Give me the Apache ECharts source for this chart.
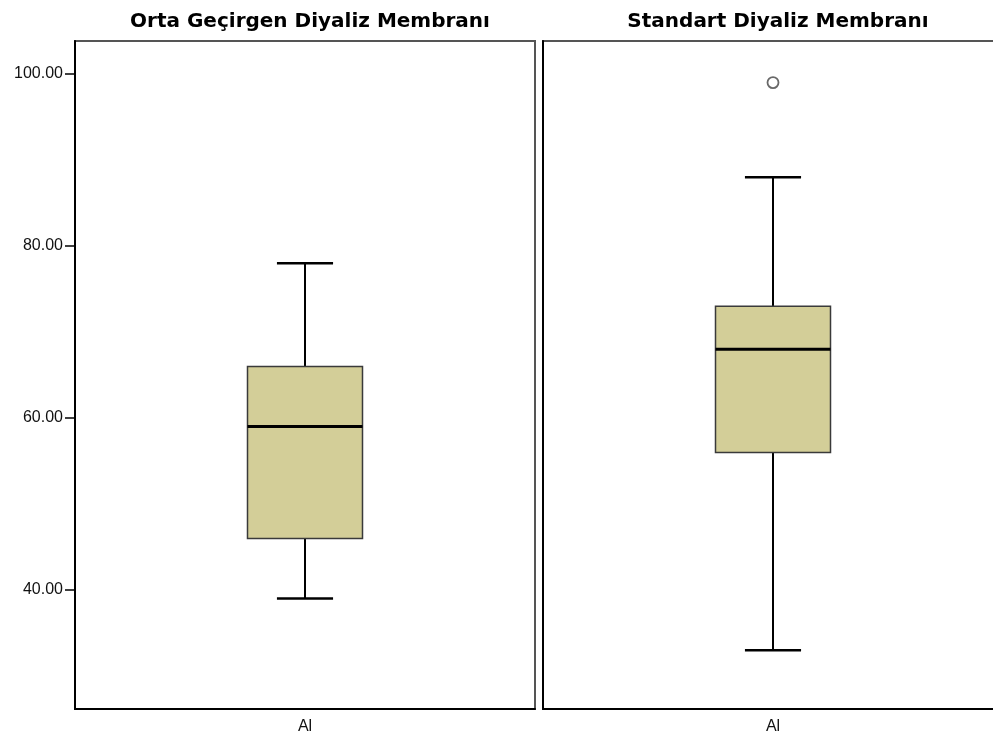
<!DOCTYPE html>
<html lang="tr">
<head>
    <meta charset="UTF-8">
    <title>Boxplot</title>
    <script src="https://cdn.jsdelivr.net/npm/echarts@6/dist/echarts.min.js"></script>
    <style>
        html, body { margin: 0; padding: 0; background: #fff; }
        #chart { width: 993px; height: 740px; }
    </style>
</head>
<body>
<div id="chart"></div>
<script>
    // data
    const panels = ['Orta Geçirgen Diyaliz Membranı', 'Standart Diyaliz Membranı'];
    const categories = ['Al'];
    // [min, q1, median, q3, max]
    const ortaBox = [39, 46, 59, 66, 78];
    const standartBox = [33, 56, 68, 73, 88];
    const standartOutliers = [99];
    const yTicks = [40, 60, 80, 100];

    const chart = echarts.init(document.getElementById('chart'));
    const font = 'Liberation Sans, Arial, sans-serif';

    function renderBox(params, api) {
        const x = api.value(0);
        const band = api.size([1, 0])[0];
        const hw = band * 0.125;
        const cw = band * 0.061;
        const pMin = api.coord([x, api.value(1)]);
        const pQ1 = api.coord([x, api.value(2)]);
        const pMed = api.coord([x, api.value(3)]);
        const pQ3 = api.coord([x, api.value(4)]);
        const pMax = api.coord([x, api.value(5)]);
        const cx = pMed[0];
        const line = (x1, y1, x2, y2, w) => ({
            type: 'line',
            shape: {x1: x1, y1: y1, x2: x2, y2: y2},
            style: {stroke: '#000', lineWidth: w}
        });
        return {
            type: 'group',
            children: [
                line(cx, pMin[1], cx, pQ1[1], 2),
                line(cx, pQ3[1], cx, pMax[1], 2),
                line(cx - cw, pMin[1], cx + cw, pMin[1], 2.5),
                line(cx - cw, pMax[1], cx + cw, pMax[1], 2.5),
                {
                    type: 'rect',
                    shape: {x: cx - hw, y: pQ3[1], width: hw * 2, height: pQ1[1] - pQ3[1]},
                    style: {fill: '#d3ce98', stroke: '#3a3a3a', lineWidth: 1.5}
                },
                line(cx - hw, pMed[1], cx + hw, pMed[1], 3)
            ]
        };
    }

    function xAxis(gridIndex) {
        return {
            type: 'category', gridIndex: gridIndex, data: categories,
            axisLine: {lineStyle: {color: '#000', width: 2}},
            axisTick: {alignWithLabel: true, length: 8, lineStyle: {color: '#000', width: 1.5}},
            axisLabel: {color: '#111', fontFamily: font, fontSize: 16, margin: 10}
        };
    }

    function yAxis(gridIndex, labels) {
        return {
            type: 'value', gridIndex: gridIndex, min: 26.16, max: 103.84,
            splitLine: {show: false},
            axisLine: {show: true, lineStyle: {color: '#000', width: 2}},
            axisTick: {show: labels, length: 10, customValues: yTicks, lineStyle: {color: '#000', width: 1.5}},
            axisLabel: {
                show: labels, customValues: yTicks, color: '#111', fontFamily: font, fontSize: 16, margin: 12,
                formatter: v => v.toFixed(2)
            }
        };
    }

    const titleStyle = {fontFamily: 'DejaVu Sans', fontWeight: 'bold', fontSize: 20, color: '#000'};

    chart.setOption({
        animation: false,
        backgroundColor: '#fff',
        title: [
            {text: panels[0], left: 305, top: 7, textAlign: 'center', textStyle: titleStyle},
            {text: panels[1], left: 773, top: 7, textAlign: 'center', textStyle: titleStyle}
        ],
        grid: [
            {left: 75, top: 41, width: 460, height: 668, show: true, borderColor: '#555', borderWidth: 2,
             outerBoundsMode: 'none'},
            {left: 543, top: 41, width: 460, height: 668, show: true, borderColor: '#555', borderWidth: 2,
             outerBoundsMode: 'none'}
        ],
        xAxis: [xAxis(0), xAxis(1)],
        yAxis: [yAxis(0, true), yAxis(1, false)],
        series: [
            {
                type: 'custom', xAxisIndex: 0, yAxisIndex: 0,
                encode: {x: 0, y: [1, 2, 3, 4, 5]},
                data: [[0].concat(ortaBox)],
                renderItem: renderBox
            },
            {
                type: 'custom', xAxisIndex: 1, yAxisIndex: 1,
                encode: {x: 0, y: [1, 2, 3, 4, 5]},
                data: [[0].concat(standartBox)],
                renderItem: renderBox
            },
            {
                type: 'scatter', xAxisIndex: 1, yAxisIndex: 1,
                symbol: 'circle', symbolSize: 11,
                itemStyle: {color: '#fff', borderColor: '#444', borderWidth: 1.8},
                data: standartOutliers.map(v => [0, v])
            }
        ]
    });
</script>
</body>
</html>
